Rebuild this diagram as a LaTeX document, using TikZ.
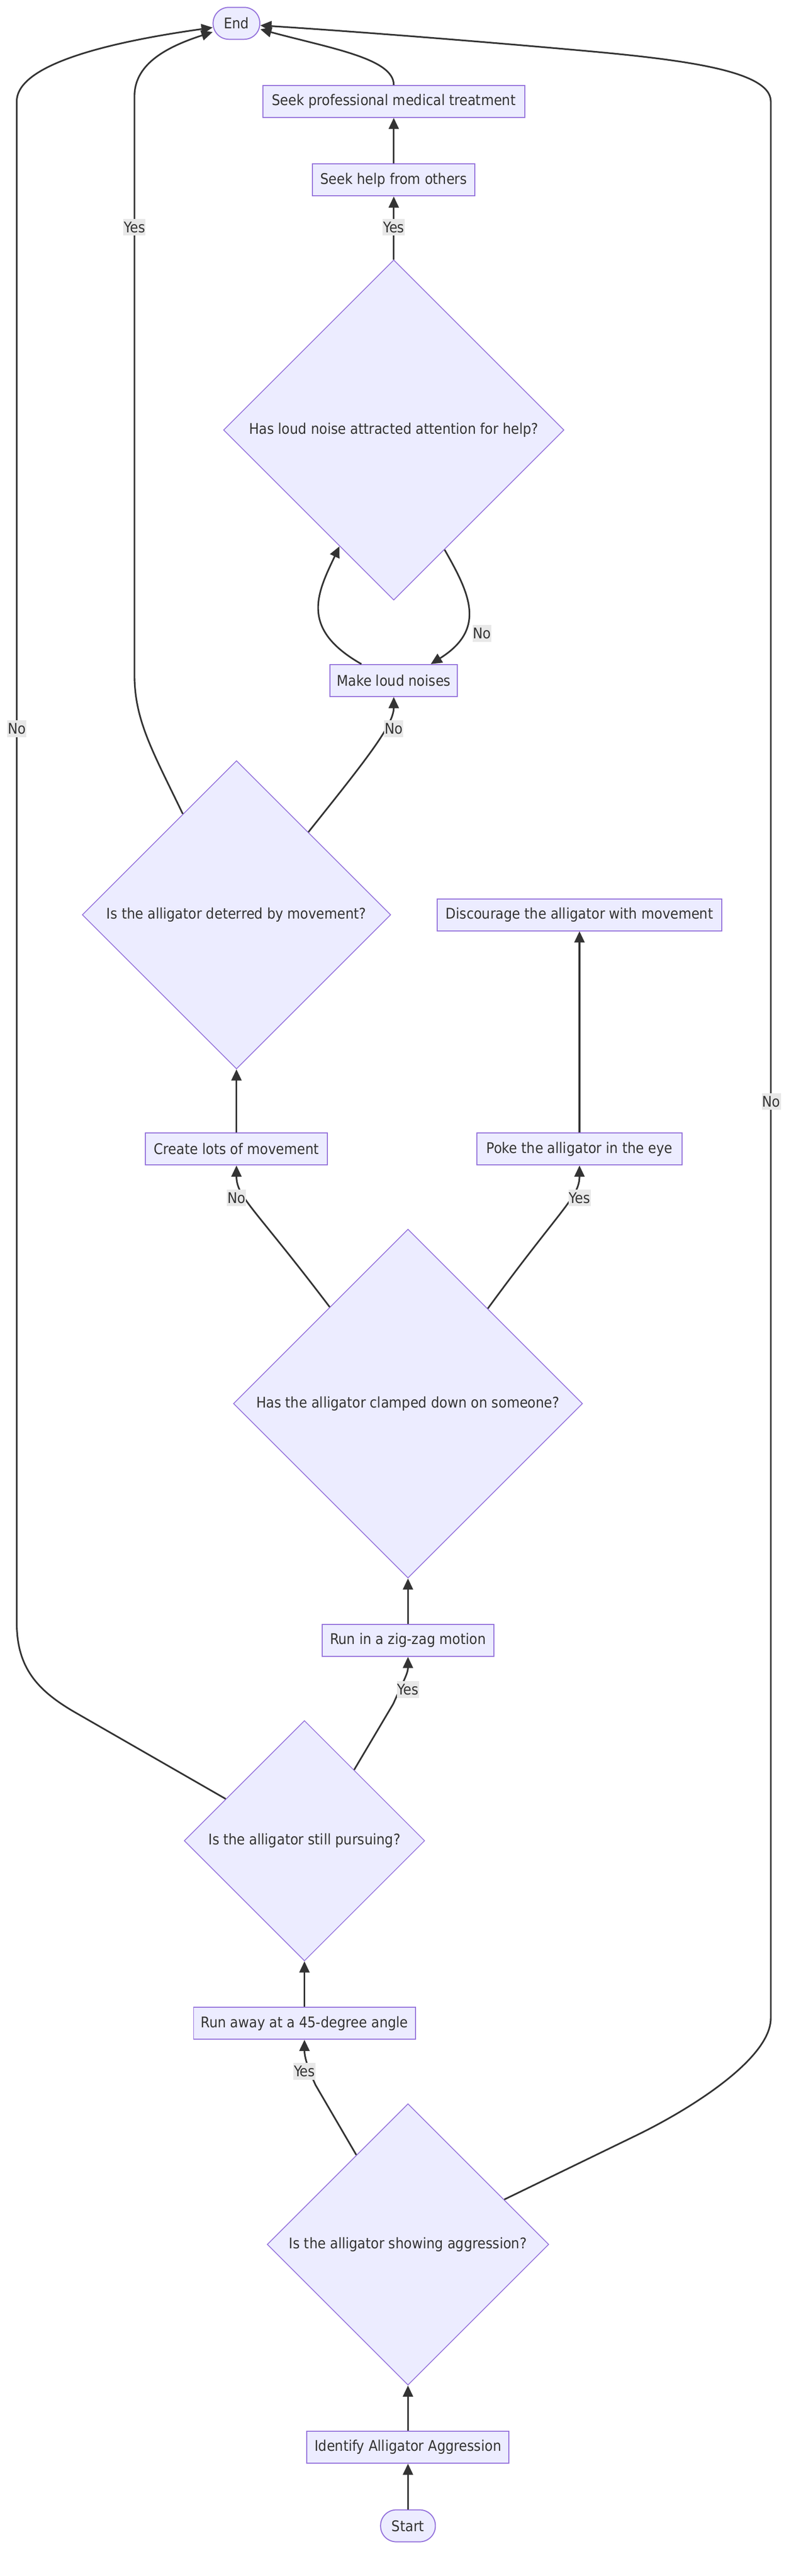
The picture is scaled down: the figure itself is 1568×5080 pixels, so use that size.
\documentclass[tikz,border=0pt]{standalone}
\usepackage{fontspec}
\IfFontExistsTF{DejaVu Sans Condensed}{\setmainfont{DejaVu Sans Condensed}}{\setmainfont{DejaVu Sans}[FakeStretch=0.9]}
\usetikzlibrary{shapes.geometric,arrows.meta}
\definecolor{nodefill}{HTML}{ECECFF}
\definecolor{nodeline}{HTML}{9370DB}
\definecolor{edgecol}{HTML}{333333}
\definecolor{txtcol}{HTML}{333333}
\definecolor{lblfill}{HTML}{E8E8E8}
\tikzset{
  basenode/.style={draw=nodeline, fill=nodefill, text=txtcol, font=\fontsize{29}{34}\selectfont, inner sep=0pt},
  procbox/.style={basenode, rectangle, line width=2pt, minimum height=63pt},
  termbox/.style={basenode, rectangle, rounded corners=31pt, line width=2pt, minimum height=63pt},
  decisionbox/.style={basenode, diamond, aspect=1, line width=1.6pt},
  edgelbl/.style={fill=lblfill, text=txtcol, font=\fontsize{29}{34}\selectfont, inner xsep=1pt, inner ysep=0pt, minimum height=33pt},
  flow/.style={draw=edgecol, line width=3.2pt, -{Triangle[length=22pt,width=20pt]}},
}
\begin{document}
\begin{tikzpicture}[x=1pt,y=-1pt]
\fill[white] (0,0) rectangle (1568,5080);
\useasboundingbox (0,0) rectangle (1568,5080);

% nodes
\node[termbox, minimum width=92pt] (endn) at (466,46) {End};
\node[procbox, minimum width=516pt] (seekprof) at (776,200) {Seek professional medical treatment};
\node[procbox, minimum width=320pt] (seekhelp) at (776,355) {Seek help from others};
\node[decisionbox, minimum width=671pt, minimum height=671pt] (loudq) at (776,848) {Has loud noise attracted attention for help?};
\node[procbox, minimum width=251pt] (makeloud) at (776,1342) {Make loud noises};
\node[decisionbox, minimum width=608pt, minimum height=608pt] (deter) at (466,1804) {Is the alligator deterred by movement?};
\node[procbox, minimum width=561pt] (discourage) at (1142,1804) {Discourage the alligator with movement};
\node[procbox, minimum width=358pt] (createmove) at (466,2266) {Create lots of movement};
\node[procbox, minimum width=405pt] (poke) at (1142,2266) {Poke the alligator in the eye};
\node[decisionbox, minimum width=688pt, minimum height=688pt] (clamp) at (804,2768) {Has the alligator clamped down on someone?};
\node[procbox, minimum width=338pt] (zigzag) at (804,3235) {Run in a zig-zag motion};
\node[decisionbox, minimum width=474pt, minimum height=474pt] (pursue) at (600,3630) {Is the alligator still pursuing?};
\node[procbox, minimum width=437pt] (runaway) at (600,3990) {Run away at a 45-degree angle};
\node[decisionbox, minimum width=555pt, minimum height=555pt] (aggr) at (804,4426) {Is the alligator showing aggression?};
\node[procbox, minimum width=398pt] (identify) at (804,4826) {Identify Alligator Aggression};
\node[termbox, minimum width=108pt] (start) at (804,4981) {Start};

% edges
\draw[flow] (start.north) -- (identify.south);
\draw[flow] (identify.north) -- (aggr.south);
\draw[flow] (aggr.120.9) -- (622,4112) .. controls (605,4075) and (600,4055) .. (runaway.south);
\draw[flow] (aggr.25.2) -- (1250,4213) .. controls (1360,4160) and (1519,4060) .. (1519,3980) -- (1519,200) .. controls (1519,140) and (1350,118) .. (1150,100) .. controls (950,82) and (700,62) .. (endn.355);
\draw[flow] (runaway.north) -- (pursue.south);
\draw[flow] (pursue.55.5) -- (775,3360) .. controls (795,3315) and (804,3300) .. (zigzag.south);
\draw[flow] (pursue.152.7) -- (150,3378) .. controls (75,3335) and (33,3290) .. (33,3200) -- (33,200) .. controls (33,130) and (200,85) .. (endn.190);
\draw[flow] (zigzag.north) -- (clamp.south);
\draw[flow] (clamp.129.5) .. controls (500,2380) and (466,2360) .. (createmove.south);
\draw[flow] (clamp.50.1) .. controls (1108,2380) and (1142,2360) .. (poke.south);
\draw[flow] (createmove.north) -- (deter.south);
\draw[flow] (poke.north) -- (discourage.south);
\draw[flow] (deter.118.7) .. controls (300,1480) and (265,1420) .. (265,1330) -- (265,190) .. controls (265,130) and (320,95) .. (endn.200);
\draw[flow] (deter.49.5) .. controls (720,1500) and (776,1430) .. (makeloud.south);
\draw[flow] (makeloud.153) .. controls (590,1240) and (625,1170) .. (loudq.245.1);
\draw[flow] (loudq.293.5) .. controls (925,1170) and (960,1240) .. (makeloud.24.5);
\draw[flow] (loudq.north) -- (seekhelp.south);
\draw[flow] (seekhelp.north) -- (seekprof.south);
\draw[flow] (seekprof.north) .. controls (776,115) and (650,95) .. (endn.346.6);

% edge labels
\node[edgelbl] (lbA) at (776,448) {Yes};
\node[edgelbl] (lbB) at (265,448) {Yes};
\node[edgelbl] (lbC) at (33,1437) {No};
\node[edgelbl] (lbD) at (776,1437) {No};
\node[edgelbl] (lbE) at (950,1249) {No};
\node[edgelbl] (lbF) at (466,2362) {No};
\node[edgelbl] (lbG) at (1142,2362) {Yes};
\node[edgelbl] (lbH) at (1520,2172) {No};
\node[edgelbl] (lbI) at (804,3332) {Yes};
\node[edgelbl] (lbJ) at (600,4085) {Yes};
\end{tikzpicture}
\end{document}
